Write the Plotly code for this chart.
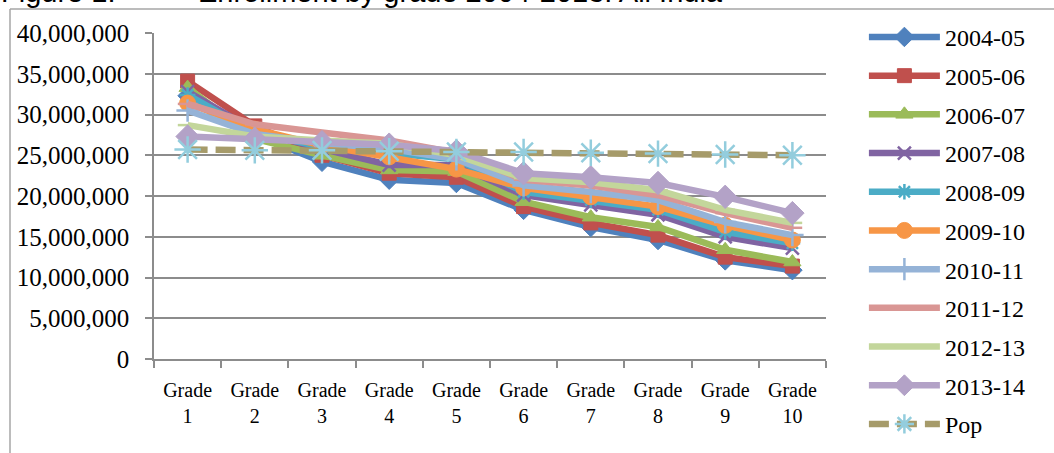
import plotly.graph_objects as go

grades = ["Grade<br>1", "Grade<br>2", "Grade<br>3", "Grade<br>4", "Grade<br>5",
          "Grade<br>6", "Grade<br>7", "Grade<br>8", "Grade<br>9", "Grade<br>10"]

y2004_05 = [32.3e6, 27.5e6, 24.2e6, 22.0e6, 21.6e6, 18.3e6, 16.2e6, 14.6e6, 12.1e6, 10.9e6]
y2005_06 = [34.1e6, 28.6e6, 25.0e6, 22.8e6, 22.3e6, 18.7e6, 16.7e6, 15.2e6, 12.5e6, 11.4e6]
y2006_07 = [33.3e6, 27.0e6, 25.0e6, 23.2e6, 23.0e6, 19.3e6, 17.4e6, 16.2e6, 13.4e6, 11.9e6]
y2007_08 = [32.8e6, 28.0e6, 25.8e6, 23.8e6, 23.8e6, 20.1e6, 18.9e6, 17.7e6, 15.0e6, 13.6e6]
y2008_09 = [32.4e6, 27.8e6, 26.0e6, 25.2e6, 24.5e6, 20.5e6, 19.5e6, 18.3e6, 15.6e6, 14.2e6]
y2009_10 = [31.4e6, 28.2e6, 26.2e6, 24.8e6, 23.3e6, 21.0e6, 19.9e6, 18.7e6, 16.4e6, 14.6e6]
y2010_11 = [30.5e6, 27.6e6, 26.5e6, 25.8e6, 24.5e6, 21.3e6, 20.5e6, 19.5e6, 16.8e6, 15.2e6]
y2011_12 = [31.3e6, 28.8e6, 27.8e6, 26.8e6, 25.3e6, 22.0e6, 21.3e6, 20.1e6, 17.9e6, 16.1e6]
y2012_13 = [28.7e6, 27.3e6, 26.8e6, 26.4e6, 25.0e6, 22.2e6, 21.7e6, 20.7e6, 18.3e6, 16.7e6]
y2013_14 = [27.3e6, 27.0e6, 26.6e6, 26.3e6, 25.5e6, 22.8e6, 22.3e6, 21.6e6, 19.9e6, 17.9e6]
pop      = [25.7e6, 25.6e6, 25.6e6, 25.5e6, 25.4e6, 25.4e6, 25.3e6, 25.2e6, 25.1e6, 25.0e6]

series_names = ["2004-05", "2005-06", "2006-07", "2007-08", "2008-09", "2009-10",
                "2010-11", "2011-12", "2012-13", "2013-14", "Pop"]
series_values = [y2004_05, y2005_06, y2006_07, y2007_08, y2008_09, y2009_10,
                 y2010_11, y2011_12, y2012_13, y2013_14, pop]
line_colors = ["#4F81BD", "#C0504D", "#9BBB59", "#8064A2", "#4BACC6", "#F79646",
               "#95B3D7", "#D99694", "#C3D69B", "#B3A2C7", "#A69B6A"]
marker_colors = ["#4F81BD", "#C0504D", "#9BBB59", "#8064A2", "#4BACC6", "#F79646",
                 "#95B3D7", "#D99694", "#C3D69B", "#B3A2C7", "#93CDDD"]
marker_symbols = ["diamond", "square", "triangle-up", "x-thin-open", "asterisk-open", "circle",
                  "cross-thin-open", "line-ew-open", "line-ew-open", "diamond", "asterisk-open"]
marker_sizes = [15, 14, 15, 13, 13, 16, 16, 14, 14, 18, 22]

fig = go.Figure()
for i, (name, vals) in enumerate(zip(series_names, series_values)):
    sym = marker_symbols[i]
    is_open = sym.endswith("-open")
    fig.add_trace(go.Scatter(
        x=grades, y=vals, name=name, mode="lines+markers",
        legendgroup="g%d" % i,
        line=dict(color=line_colors[i], width=6.5,
                  dash="20px,8px" if name == "Pop" else "solid"),
        marker=dict(symbol=sym, size=marker_sizes[i], color=marker_colors[i],
                    line=dict(color=marker_colors[i], width=2.5 if is_open else 1)),
    ))

fig.update_layout(
    width=1054, height=453, autosize=False,
    margin=dict(l=154, r=228, t=33, b=94),
    paper_bgcolor="white", plot_bgcolor="white",
    font=dict(family="Liberation Serif", color="black", size=24),
    showlegend=True,
    legend=dict(x=1.0564, y=1.0557, xanchor="left", yanchor="top",
                font=dict(family="Liberation Serif", size=24, color="black"),
                itemwidth=71, tracegroupgap=4.5, bgcolor="rgba(0,0,0,0)",
                maxheight=453),
    xaxis=dict(type="category", range=[-0.5, 9.5], showgrid=False,
               showline=True, linecolor="#8C8C8C", linewidth=1.5,
               ticks="outside", tickson="boundaries", ticklen=7, tickcolor="#8C8C8C", tickwidth=1.5,
               tickfont=dict(family="Liberation Serif", size=20), ticklabelstandoff=12),
    yaxis=dict(range=[0, 40e6], dtick=5e6, tickformat=",", showgrid=True,
               gridcolor="#8C8C8C", gridwidth=1.5, zeroline=False,
               showline=True, linecolor="#8C8C8C", linewidth=1.5,
               ticks="outside", ticklen=7, tickcolor="#8C8C8C", tickwidth=1.5,
               tickfont=dict(family="Liberation Serif", size=25), ticklabelstandoff=11),
    annotations=[
        dict(text="Figure 1:", xref="paper", yref="paper", x=(0 - 154) / 672, y=1 + (33 - 9) / 326,
             xanchor="left", yanchor="bottom", showarrow=False, borderpad=0,
             font=dict(family="Liberation Sans", size=29, color="black")),
        dict(text="Enrollment by grade 2004-2013: All India", xref="paper", yref="paper",
             x=(197 - 154) / 672, y=1 + (33 - 9) / 326,
             xanchor="left", yanchor="bottom", showarrow=False, borderpad=0,
             font=dict(family="Liberation Sans", size=29, color="black")),
    ],
    shapes=[
        dict(type="line", xref="paper", yref="paper",
             x0=(10 - 154) / 672, x1=(1054 - 154) / 672,
             y0=1 + (33 - 9) / 326, y1=1 + (33 - 9) / 326,
             line=dict(color="#A6A6A6", width=1.5)),
        dict(type="line", xref="paper", yref="paper",
             x0=(10 - 154) / 672, x1=(10 - 154) / 672,
             y0=1 + (33 - 9) / 326, y1=(359 - 460) / 326,
             line=dict(color="#A6A6A6", width=1.5)),
    ],
)

fig.write_html("out.html", config={"displayModeBar": False},
               post_script="document.body.style.margin='0';")
